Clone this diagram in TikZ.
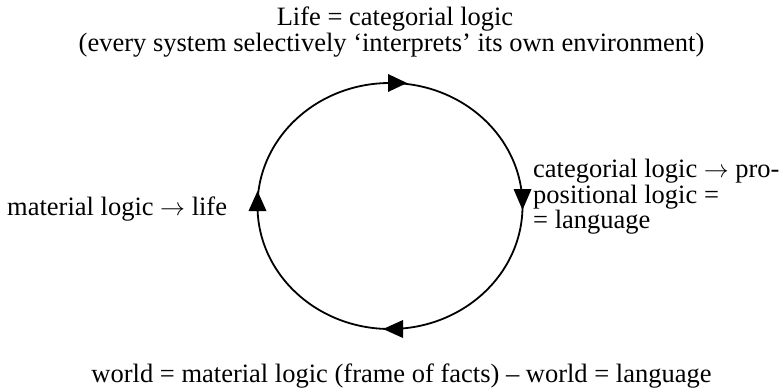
\documentclass[tikz,border=0pt]{standalone}
\usepackage{fontspec}
\setmainfont{Liberation Serif}
\usetikzlibrary{arrows.meta}
\begin{document}
\begin{tikzpicture}[x=1pt,y=-1pt,
  lbl/.style={inner sep=0pt,font=\fontsize{26.5}{26}\selectfont},
  cyc/.style={line width=1.8pt},
  tip/.style={fill=black}]
\useasboundingbox (0,0) rectangle (783,390);
% cycle
\coordinate (c) at (390,206);
\draw[cyc] (c) ellipse [x radius=132.5, y radius=123];
% arrowheads
\fill[tip] (407,83) -- (388,74) -- (388,92) -- cycle;
\fill[tip] (522.5,210) -- (513.5,189) -- (531.5,189) -- cycle;
\fill[tip] (257.5,191) -- (248.5,211) -- (266.5,211) -- cycle;
\fill[tip] (383,329) -- (403,320) -- (403,338) -- cycle;
% texts
\node[lbl,anchor=base] (t1) at (395,26) {Life = categorial logic};
\node[lbl,anchor=base] (t2) at (391.5,52) {(every system selectively ‘interprets’ its own environment)};
\node[lbl,anchor=base west] (r1) at (533,177) {categorial logic $\rightarrow$ pro-};
\node[lbl,anchor=base west] (r2) at (533,203) {positional logic =};
\node[lbl,anchor=base west] (r3) at (533,228) {= language};
\node[lbl,anchor=base west] (l1) at (7,215) {material logic $\rightarrow$ life};
\node[lbl,anchor=base] (b1) at (401.5,382) {world = material logic (frame of facts) -- world = language};
\end{tikzpicture}
\end{document}
